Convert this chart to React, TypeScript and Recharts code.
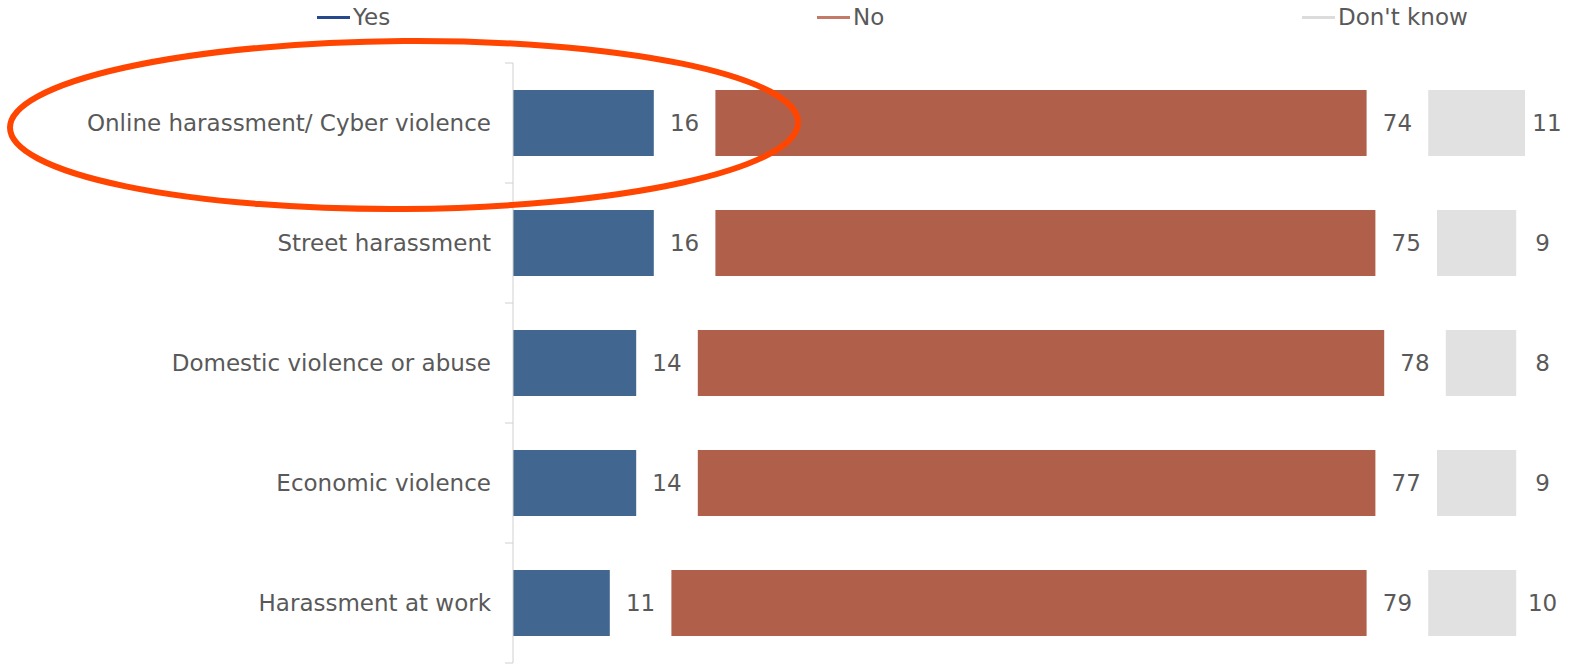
import React from "react";
import { BarChart, Bar, XAxis, YAxis, Legend, LabelList } from "recharts";

const categories = [
  "Online harassment/ Cyber violence",
  "Street harassment",
  "Domestic violence or abuse",
  "Economic violence",
  "Harassment at work",
];
const yesValues = [16, 16, 14, 14, 11];
const noValues = [74, 75, 78, 77, 79];
const dontKnowValues = [11, 9, 8, 9, 10];
const legendLabels = ["Yes", "No", "Don't know"];

// blank spacer between segments, holds the value labels
const GAP = 7;

// the edge axis runs over the row indexes 0..4; split it into 5 equal bands
const edgeMax = categories.length - 1;
const edgeTicks = categories.map((_, i) => (i * edgeMax) / categories.length).concat(edgeMax);

const TEXT = "#595959";
const FONT = "'DejaVu Sans', Verdana, sans-serif";
const barColors = ["#41668f", "#b0604a", "#e0e1e0"];
const legendColors = ["#27488d", "#c47a68", "#dcdcdc"];
const legendLeft = [317, 817, 1302];

const rows = categories.map((category, i) => ({
  category,
  yes: yesValues[i],
  gapYes: GAP,
  no: noValues[i],
  gapNo: GAP,
  dk: dontKnowValues[i],
  gapDk: GAP,
}));

function TopLegend() {
  return (
    <div style={{ position: "relative", width: 1573, height: 34 }}>
      {legendLabels.map((label, i) => (
        <div
          key={label}
          style={{
            position: "absolute",
            left: legendLeft[i],
            top: 0,
            height: 34,
            display: "flex",
            alignItems: "center",
            fontSize: 23,
            color: TEXT,
            fontFamily: FONT,
            whiteSpace: "nowrap",
          }}
        >
          <span
            style={{
              display: "inline-block",
              width: 33,
              height: 3,
              background: legendColors[i],
              marginRight: 3,
            }}
          />
          {label}
        </div>
      ))}
    </div>
  );
}

const labelProps = { position: "center" as const, fill: TEXT, fontSize: 23, fontFamily: FONT };

export default function App() {
  return (
    <div style={{ position: "absolute", left: 0, top: 0, width: 1573, height: 665, fontFamily: FONT }}>
      <BarChart
        width={1573}
        height={665}
        data={rows}
        layout="vertical"
        margin={{ top: 63, right: 4, bottom: 2, left: 0 }}
      >
        <XAxis type="number" domain={[0, 120]} hide allowDataOverflow />
        <YAxis
          yAxisId="cat"
          type="category"
          dataKey="category"
          width={513}
          tickLine={false}
          tickSize={6}
          tickMargin={16}
          axisLine={{ stroke: "#d0d0d0" }}
          tick={{ fill: TEXT, fontSize: 23, fontFamily: FONT }}
        />
        {/* band boundary ticks: mirrored axis on the plot edge, ticks pointing outwards */}
        <YAxis
          yAxisId="edges"
          type="number"
          mirror
          domain={[0, edgeMax]}
          allowDataOverflow
          ticks={edgeTicks}
          interval={0}
          width={1}
          tickFormatter={() => ""}
          axisLine={false}
          tickSize={-8}
          tickLine={{ stroke: "#d0d0d0" }}
        />
        <Legend
          layout="horizontal"
          verticalAlign="middle"
          align="center"
          wrapperStyle={{ position: "absolute", top: 0, left: 0, width: 1573, height: 34 }}
          content={() => <TopLegend />}
        />
        <Bar yAxisId="cat" dataKey="yes" stackId="s" fill={barColors[0]} barSize={66} isAnimationActive={false} />
        <Bar yAxisId="cat" dataKey="gapYes" stackId="s" fill="transparent" barSize={66} isAnimationActive={false}>
          <LabelList dataKey="yes" {...labelProps} />
        </Bar>
        <Bar yAxisId="cat" dataKey="no" stackId="s" fill={barColors[1]} barSize={66} isAnimationActive={false} />
        <Bar yAxisId="cat" dataKey="gapNo" stackId="s" fill="transparent" barSize={66} isAnimationActive={false}>
          <LabelList dataKey="no" {...labelProps} />
        </Bar>
        <Bar yAxisId="cat" dataKey="dk" stackId="s" fill={barColors[2]} barSize={66} isAnimationActive={false} />
        <Bar yAxisId="cat" dataKey="gapDk" stackId="s" fill="transparent" barSize={66} isAnimationActive={false}>
          <LabelList dataKey="dk" {...labelProps} />
        </Bar>
      </BarChart>
      <svg
        width={1573}
        height={665}
        style={{ position: "absolute", left: 0, top: 0, pointerEvents: "none" }}
      >
        <ellipse
          cx={404}
          cy={125}
          rx={394}
          ry={84}
          fill="none"
          stroke="#ff4500"
          strokeWidth={6}
          transform="rotate(-0.4 404 125)"
        />
      </svg>
    </div>
  );
}
